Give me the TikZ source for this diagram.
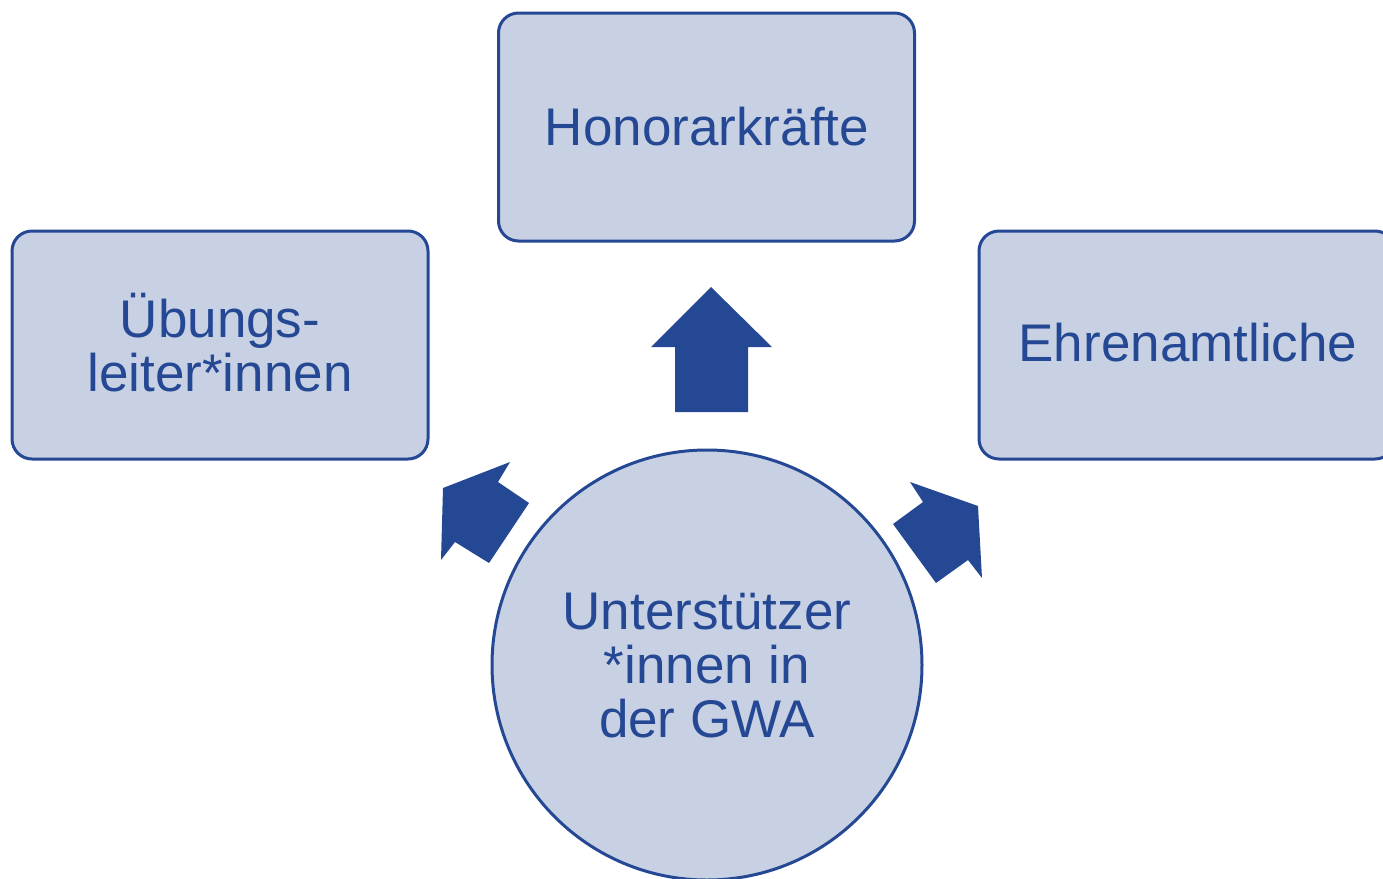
\documentclass[tikz,border=0pt]{standalone}
\usepackage{fontspec}
\setmainfont{Liberation Sans}
\definecolor{fillblue}{HTML}{C8D1E3}
\definecolor{darkblue}{HTML}{254894}
\begin{document}
\begin{tikzpicture}[x=0.5pt,y=-0.5pt,
  box/.style={draw=darkblue, fill=fillblue, line width=1.5pt, rounded corners=10pt,
    minimum width=208pt, minimum height=114pt, inner sep=0pt},
  hub/.style={draw=darkblue, fill=fillblue, line width=1.5pt, circle,
    minimum size=215pt, inner sep=0pt},
  lbl/.style={text=darkblue, font=\fontsize{26.5}{27}\selectfont, align=center},
  blockarrow/.style={fill=darkblue, draw=none}]
\useasboundingbox (0,0) rectangle (1383,879);
\clip (0,0) rectangle (1383,879);
% boxes
\node[box] (top) at (706.5,127) {};
\node[box] (left) at (220,345) {};
\node[box] (right) at (1187,345) {};
\node[hub] (hub) at (707,665) {};
% labels
\node[lbl] (toplbl) at (707,127) {Honorarkräfte};
\node[lbl] (leftlbl) at (220,343) {Übungs-\\leiter*innen};
\node[lbl] (rightlbl) at (1188,343) {Ehrenamtliche};
\node[lbl] (hublbl) at (707,666) {Unterstützer\\*innen in\\der GWA};
% block arrows
\fill[blockarrow] (711,287) -- (772,347) -- (748,347) -- (748,412) -- (675,412) -- (675,347) -- (651,347) -- cycle;
\fill[blockarrow] (510,462) -- (498,482) -- (529,503) -- (489,563) -- (455,542) -- (441,560) -- (443,488) -- cycle;
\fill[blockarrow] (910,482) -- (978,506) -- (982,578) -- (968,560) -- (936,583) -- (893,524) -- (923,502) -- cycle;
\end{tikzpicture}
\end{document}
